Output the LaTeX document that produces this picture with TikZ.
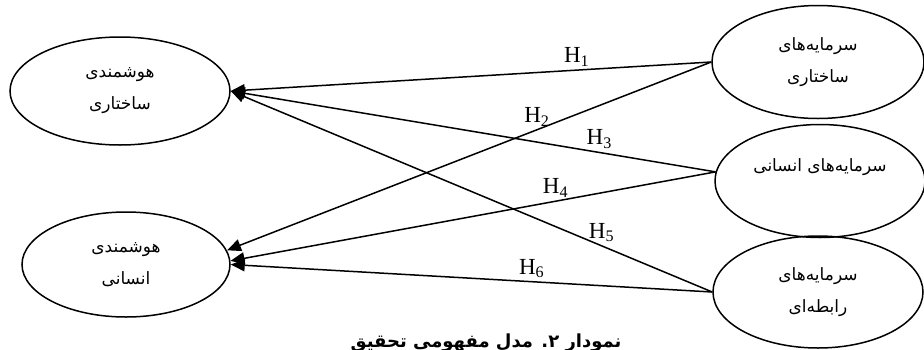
\documentclass[tikz,border=0pt]{standalone}
\usepackage{fontspec}
\setmainfont{Liberation Serif}
\newfontfamily\farsifont[Script=Arabic]{DejaVu Sans}
\TeXXeTstate=1
\newcommand{\fa}[1]{{\farsifont\beginR #1\endR}}
\usetikzlibrary{positioning,shapes.geometric,arrows.meta}

\begin{document}
\begin{tikzpicture}[x=1pt, y=-1pt,
  concept/.style={ellipse, draw, line width=1.5pt, inner sep=0pt, align=center,
                  font=\fontsize{17}{32}\selectfont},
  arr/.style={-{Triangle[length=14pt, width=12pt]}, line width=1.5pt},
  hyp/.style={font=\fontsize{23}{23}\selectfont, inner sep=3pt},
  caption/.style={font=\fontsize{18}{20}\selectfont\bfseries}
]
\useasboundingbox (0,0) rectangle (924,349);

% dependent constructs (left)
\node[concept, minimum width=220pt, minimum height=108pt] (HS) at (120,91)    {\fa{هوشمندی}\\\fa{ساختاری}};
\node[concept, minimum width=208pt, minimum height=105pt] (HI) at (126,264.5) {\fa{هوشمندی}\\\fa{انسانی}};

% capitals (right)
\node[concept, minimum width=212pt, minimum height=113pt] (SC) at (818,62)  {\fa{سرمایه‌های}\\\fa{ساختاری}};
\node[concept, minimum width=210pt, minimum height=113pt] (SH) at (820,181) {\fa{سرمایه‌های انسانی}\\\mbox{}};
\node[concept, minimum width=210pt, minimum height=112pt] (SR) at (818,292) {\fa{سرمایه‌های}\\\fa{رابطه‌ای}};

\draw[arr] (SC.west) -- node[hyp, pos=0.28,  above] {H\textsubscript{1}} (HS.east);
\draw[arr] (SC.west) -- node[hyp, pos=0.36,  above] {H\textsubscript{2}} (HI.8);
\draw[arr] (SH.175)  -- node[hyp, pos=0.24,  above] {H\textsubscript{3}} (HS.east);
\draw[arr] (SH.175)  -- node[hyp, pos=0.33,  above] {H\textsubscript{4}} (HI.2);
\draw[arr] (SR.west) -- node[hyp, pos=0.23,  above] {H\textsubscript{5}} (HS.east);
\draw[arr] (SR.west) -- node[hyp, pos=0.375, above] {H\textsubscript{6}} (HI.east);

\node[caption, anchor=base] (cap) at (486,347) {\fa{نمودار ۲. مدل مفهومی تحقیق}};
\end{tikzpicture}
\end{document}
